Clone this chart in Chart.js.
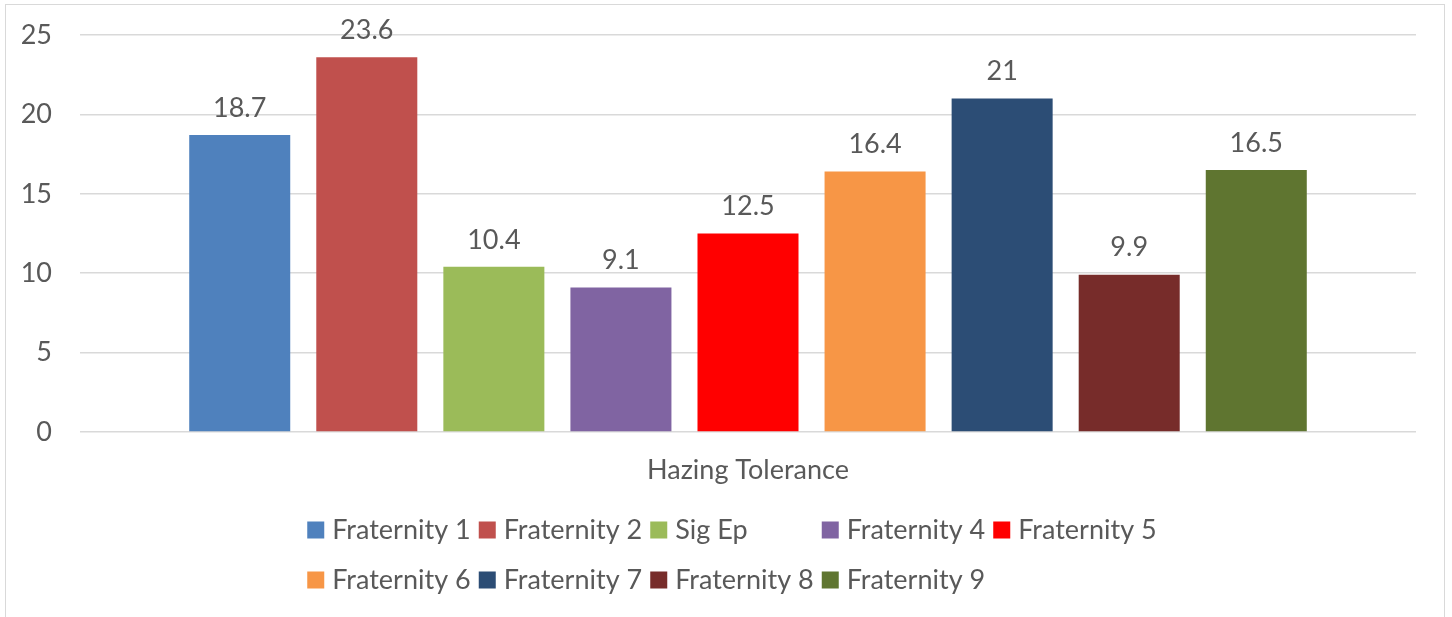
<!DOCTYPE html>
<html>
<head>
<meta charset="utf-8">
<script src="https://cdn.jsdelivr.net/npm/chart.js@4.4.1/dist/chart.umd.min.js"></script>
<style>
  html, body { margin: 0; padding: 0; background: #fff; overflow: hidden; }
  #frame {
    position: absolute; left: 5px; top: 4px; width: 1440px; height: 640px;
    border: 1.5px solid #d9d9d9; box-sizing: border-box;
  }
  #wrap { position: absolute; left: 0; top: 0; width: 1452px; height: 617px; }
</style>
</head>
<body>
<div id="frame"></div>
<div id="wrap"><canvas id="hazingChart"></canvas></div>
<script>
// data
const categories = ['Hazing Tolerance'];
const groups = ['Fraternity 1', 'Fraternity 2', 'Sig Ep', 'Fraternity 4', 'Fraternity 5',
                'Fraternity 6', 'Fraternity 7', 'Fraternity 8', 'Fraternity 9'];
const tolerance = [18.7, 23.6, 10.4, 9.1, 12.5, 16.4, 21, 9.9, 16.5];
const yTicks = [0, 5, 10, 15, 20, 25];

const colors = ['#4f81bd', '#c0504d', '#9bbb59', '#8064a2', '#ff0000',
                '#f79646', '#2c4d75', '#772c2a', '#5f7530'];

const FONT = 'Lato, "Open Sans", sans-serif';
const TEXT = '#595959';
const SIZE = 27;

// value above each bar
const barLabels = {
  id: 'barLabels',
  afterDatasetsDraw(chart) {
    const ctx = chart.ctx;
    ctx.save();
    ctx.font = SIZE + 'px ' + FONT;
    ctx.fillStyle = TEXT;
    ctx.textAlign = 'center';
    ctx.textBaseline = 'middle';
    chart.data.datasets.forEach((ds, i) => {
      chart.getDatasetMeta(i).data.forEach((bar, j) => {
        ctx.fillText(String(ds.data[j]), bar.x, bar.y - 27);
      });
    });
    ctx.restore();
  }
};

// legend laid out in fixed-width columns, five per row
const gridLegend = {
  id: 'gridLegend',
  afterDraw(chart) {
    const ctx = chart.ctx;
    const colW = 171.5, perRow = 5, box = 17;
    const startX = chart.width / 2 - (colW * perRow) / 2 + 10;
    const rowY = [530, 580];
    ctx.save();
    ctx.font = SIZE + 'px ' + FONT;
    ctx.textBaseline = 'middle';
    ctx.textAlign = 'left';
    chart.data.datasets.forEach((ds, i) => {
      const x = startX + (i % perRow) * colW;
      const y = rowY[Math.floor(i / perRow)];
      ctx.fillStyle = ds.backgroundColor;
      ctx.fillRect(x, y - box / 2, box, box);
      ctx.fillStyle = TEXT;
      ctx.fillText(ds.label, x + box + 8, y);
    });
    ctx.restore();
  }
};

new Chart(document.getElementById('hazingChart'), {
  type: 'bar',
  data: {
    labels: categories,
    datasets: groups.map((g, i) => ({
      label: g,
      data: [tolerance[i]],
      backgroundColor: colors[i],
      categoryPercentage: 0.856,
      barPercentage: 0.795
    }))
  },
  options: {
    responsive: true,
    maintainAspectRatio: false,
    animation: false,
    layout: { padding: { top: 35, right: 36, left: 0, bottom: 0 } },
    plugins: {
      legend: { display: false },
      tooltip: { enabled: false }
    },
    scales: {
      x: {
        grid: { display: false, drawTicks: false },
        border: { display: false },
        ticks: { color: TEXT, font: { family: FONT, size: SIZE }, padding: 22 },
        afterFit(scale) { scale.height = 185; }
      },
      y: {
        min: 0,
        max: 25,
        afterBuildTicks(scale) { scale.ticks = yTicks.map(v => ({ value: v })); },
        grid: { color: '#d9d9d9', lineWidth: 1.5, drawTicks: false },
        border: { display: false },
        ticks: { color: TEXT, font: { family: FONT, size: SIZE }, padding: 28 },
        afterFit(scale) {
          scale.width = 80;
          scale.paddingTop = 0;
          scale.paddingBottom = 0;
        }
      }
    }
  },
  plugins: [barLabels, gridLegend]
});
</script>
</body>
</html>
